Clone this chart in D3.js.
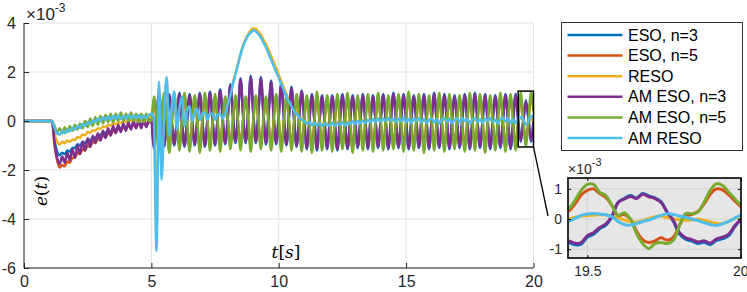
<!DOCTYPE html>
<html>
<head>
<meta charset="utf-8">
<script src="https://cdn.jsdelivr.net/npm/d3@7"></script>
<style>
  body { margin: 0; background: #fff; }
  svg { display: block; font-family: "Liberation Sans", Arial, sans-serif; }
</style>
</head>
<body>
<svg id="chart" width="747" height="292"></svg>
<script>
// error signals e(t) (x 1e-3), sampled every tStep seconds from t = 0 to 20
const tStep = 0.1;

const esoN3 = [
  0,0,0,0,0,0,0,0,0,0,0,0,
  -0.8,-1.25,-1.4,-1.3,-1.35,-1.2,-1.25,-1.1,-1.1,-0.95,-1.0,-0.85,-0.9,-0.75,-0.8,-0.65,-0.7,-0.55,-0.6,-0.45,
  -0.5,-0.4,-0.45,-0.3,-0.38,-0.25,-0.32,-0.2,-0.28,-0.15,-0.25,-0.12,-0.22,-0.1,-0.2,-0.05,-0.18,-0.05,
  0,-1.15,0,1.15, 0.05,-1.05,0,1.1, 0,-1,0.05,1.15, 0,-1.05,0,1.1, 0.05,-1,0.05,1.15, 0,-1.05,0.05,1.2,
  0.05,-1,0.1,1.3, 0.1,-0.95,0.15,1.5, 0.2,-0.9,0.25,1.75, 0.25,-0.9,0.3,1.85, 0.3,-0.9,0.3,1.8,
  0.25,-0.95,0.25,1.65, 0.2,-0.95,0.2,1.55, 0.15,-1,0.15,1.4, 0.1,-1.05,0.1,1.25, 0.05,-1.15,0,1.1,
  0,-1.2,0,1.05, 0,-1.15,-0.05,1.05, 0,-1.2,0,1.1, -0.05,-1.15,0,1.05, 0,-1.1,0,1.1, 0,-1.15,0.05,1.05,
  0,-1.1,0,1.1, 0,-1.15,0,1.15, 0.05,-1.1,0,1.1, 0,-1.15,0,1.05, 0,-1.1,0.05,1.1, 0,-1.15,0,1.15,
  0,-1.1,0,1.1, 0.05,-1.15,0,1.05, 0,-1.1,0,1.1, 0,-1.15,0.05,1.15, 0,-1.1,0,1.1, 0,-1.15,0,1.05,
  0.05,-1.1,0,1.1, 0,-1.15,0,1.1, 0,-0.85,0,0.85, 0.1,-0.85,0
];

const esoN5 = [
  0,0,0,0,0,0,0,0,0,0,0,0,
  -1.0,-1.6,-1.9,-1.8,-1.85,-1.65,-1.7,-1.5,-1.5,-1.3,-1.35,-1.15,-1.2,-1.0,-1.05,-0.85,-0.9,-0.72,-0.78,-0.6,
  -0.65,-0.5,-0.55,-0.4,-0.45,-0.32,-0.38,-0.25,-0.32,-0.2,-0.28,-0.15,-0.24,-0.12,-0.2,-0.08,-0.16,-0.05,
  0,0.85,0.05,-1.05, 0,0.95,0,-1.1, -0.05,0.9,0.05,-1, 0,0.95,-0.05,-1.05, 0.05,0.9,0,-1.1, 0,0.95,0.05,-1,
  -0.05,0.9,0,-1.05, 0.05,0.85,0.05,-1, 0,0.9,0,-1, 0.05,0.85,0.05,-1.05, 0,0.9,0,-1, 0.05,0.85,-0.05,-1,
  0,0.95,0.05,-1.05, 0,0.9,0,-1, -0.05,0.95,0,-1.05, 0.05,0.9,-0.05,-1.1, 0,1,0,-1, 0,0.9,0.05,-1.05,
  -0.05,0.95,0,-1, 0,0.95,0,-1.1, 0.05,0.9,-0.05,-1, 0,0.95,0,-1.05, 0,0.95,0.05,-1, -0.05,0.9,0,-1,
  0,0.95,0,-1.05, 0.05,1,-0.05,-1, 0,0.95,0,-1.1, 0,0.9,0.05,-1, -0.05,0.95,0,-1.05, 0,0.95,0,-1,
  0.05,0.9,-0.05,-1.05, 0,0.95,0,-1, 0,0.95,0.05,-1.1, -0.05,0.9,0,-1, 0,0.95,0,-1.05, 0.05,0.95,-0.05,-1,
  0,1,0,-0.8, 0,1,0.4
];

const reso = [
  0,0,0,0,0,0,0,0,0,0,0,0,
  -0.5,-0.85,-0.95,-0.85,-0.9,-0.8,-0.85,-0.75,-0.78,-0.65,-0.68,-0.55,-0.58,-0.45,-0.48,-0.38,-0.4,-0.3,-0.32,-0.22,
  -0.25,-0.16,-0.18,-0.1,-0.12,-0.05,-0.08,0,-0.04,0.04,0,0.06,0.02,0.08,0.04,0.1,0.06,0.12,
  0.3,0.1,-4.6,1.4,-2.0,0.2,1.6,-0.5,0.5,1.1,
  -0.3,0.45,0.9,-0.15,0.4,0.55,0,0.35,0.45,0.05,
  0.3,0.35,0.1,0.3,0.3,0.1,0.25,0.3,0.15,0.35,
  0.7,1.1,1.55,1.95,2.35,2.75,3.1,3.35,3.55,3.7,
  3.78,3.75,3.65,3.5,3.32,3.12,2.9,2.65,2.4,2.15,
  1.88,1.62,1.36,1.1,0.88,0.68,0.5,0.35,0.22,0.1,
  0.02,
  -0.05,-0.08,-0.1,-0.08,-0.12,-0.1,-0.12,-0.08,-0.1,
  -0.1,-0.08,-0.1,-0.06,-0.08,-0.05,-0.08,-0.04,-0.06,-0.02,
  -0.05,0,-0.03,0.02,-0.02,0.03,0,0.04,0,0.05,
  0,0.05,0.02,0.06,0,0.04,-0.02,0.05,0,0.06,
  0,0.04,-0.03,0.05,0,0.06,-0.02,0.04,-0.04,0.03,
  0.05,-0.02,0.04,-0.05,0.03,0.06,0,0.05,-0.04,0.03,
  0.05,-0.02,0.06,0,0.04,-0.05,0.03,0.06,-0.02,0.04,
  -0.04,0.05,0,0.06,-0.02,0.03,-0.05,0.04,0.06,0,
  0.05,-0.04,0.03,-0.05,0.08,0.12,0,-0.1,-0.08,0.05,
  0.1
];

const amEsoN3 = [
  0,0,0,0,0,0,0,0,0,0,0,0,
  -0.9,-1.5,-1.75,-1.45,-1.7,-1.3,-1.6,-1.15,-1.5,-1.0,-1.35,-0.85,-1.2,-0.7,-1.05,-0.6,-0.9,-0.5,-0.8,-0.4,
  -0.7,-0.3,-0.6,-0.2,-0.5,-0.15,-0.45,-0.1,-0.4,-0.05,-0.35,0,-0.3,0.05,-0.3,0.05,-0.25,0.05,
  0,-1.1,0,1.1, 0.05,-1,0,1.05, 0,-0.95,0.05,1.1, 0,-1,0,1.05, 0.05,-0.95,0.05,1.1, 0,-1,0.05,1.15,
  0.05,-0.95,0.1,1.25, 0.1,-0.9,0.15,1.45, 0.2,-0.85,0.25,1.7, 0.25,-0.85,0.3,1.8, 0.3,-0.85,0.3,1.75,
  0.25,-0.9,0.25,1.6, 0.2,-0.9,0.2,1.5, 0.15,-0.95,0.15,1.35, 0.1,-1,0.1,1.2, 0.05,-1.1,0,1.05,
  0,-1.15,0,1, 0,-1.1,-0.05,1, 0,-1.15,0,1.05, -0.05,-1.1,0,1, 0,-1.05,0,1.05, 0,-1.1,0.05,1,
  0,-1.05,0,1.05, 0,-1.1,0,1.1, 0.05,-1.05,0,1.05, 0,-1.1,0,1, 0,-1.05,0.05,1.05, 0,-1.1,0,1.1,
  0,-1.05,0,1.05, 0.05,-1.1,0,1, 0,-1.05,0,1.05, 0,-1.1,0.05,1.1, 0,-1.05,0,1.05, 0,-1.1,0,1,
  0.05,-1.05,0,1.05, 0,-1.1,0,1.05, 0,-0.8,0,0.8, 0.1,-0.8,0
];

const amEsoN5 = [
  0,0,0,0,0,0,0,0,0,0,0,0,
  -0.2,-0.45,-0.3,-0.5,-0.25,-0.45,-0.2,-0.4,-0.15,-0.35,-0.1,-0.3,0,-0.25,0.1,-0.2,0.15,-0.15,0.2,-0.1,
  0.25,-0.05,0.3,-0.05,0.3,0,0.35,0,0.3,0,0.35,0,0.3,-0.05,0.3,-0.05,0.3,0,
  0,1,0.1,-1.25, 0,1.15,0,-1.3, -0.05,1.1,0.05,-1.2, 0,1.15,-0.05,-1.25, 0.05,1.05,0,-1.3, 0,1.15,0.05,-1.2,
  -0.05,1.1,0,-1.25, 0.05,1,0.05,-1.15, 0,1.05,0,-1.2, 0.05,1,0.05,-1.25, 0,1.05,0,-1.15, 0.05,1,-0.05,-1.2,
  0,1.1,0.05,-1.25, 0,1.05,0,-1.2, -0.05,1.1,0,-1.25, 0.05,1.05,-0.05,-1.3, 0,1.2,0,-1.2, 0,1.05,0.05,-1.25,
  -0.05,1.1,0,-1.15, 0,1.15,0,-1.3, 0.05,1.05,-0.05,-1.2, 0,1.1,0,-1.25, 0,1.15,0.05,-1.2, -0.05,1.05,0,-1.15,
  0,1.1,0,-1.25, 0.05,1.2,-0.05,-1.2, 0,1.1,0,-1.3, 0,1.05,0.05,-1.2, -0.05,1.15,0,-1.25, 0,1.1,0,-1.15,
  0.05,1.05,-0.05,-1.25, 0,1.15,0,-1.2, 0,1.1,0.05,-1.3, -0.05,1.05,0,-1.2, 0,1.15,0,-1.25, 0.05,1.1,-0.05,-1.2,
  0,1.15,0,-1.0, 0,1.15,0.45
];

const amReso = [
  0,0,0,0,0,0,0,0,0,0,0,0,
  -0.3,-0.5,-0.55,-0.4,-0.5,-0.35,-0.42,-0.28,-0.35,-0.2,-0.28,-0.12,-0.2,-0.05,-0.12,0.02,-0.05,0.1,0,0.15,
  0.05,0.18,0.06,0.2,0.08,0.22,0.08,0.2,0.1,0.25,0.1,0.22,0.12,0.25,0.1,0.22,0.12,0.25,
  0.3,0.1,-5.3,1.6,-2.4,0.2,1.8,-0.6,0.6,1.2,
  -0.35,0.5,1.0,-0.2,0.4,0.6,0,0.35,0.5,0.05,
  0.3,0.35,0.05,0.3,0.3,0.05,0.25,0.3,0.1,0.3,
  0.65,1.05,1.5,1.9,2.3,2.7,3.05,3.3,3.5,3.6,
  3.7,3.65,3.55,3.4,3.2,3.0,2.75,2.5,2.25,2.0,
  1.75,1.5,1.25,1.0,0.8,0.6,0.42,0.28,0.15,0.05,
  0,
  -0.1,-0.05,-0.15,-0.08,-0.18,-0.1,-0.2,-0.1,-0.15,
  -0.18,-0.08,-0.2,-0.1,-0.15,-0.05,-0.18,-0.08,-0.12,-0.02,
  -0.12,0,-0.1,0.02,-0.08,0.05,-0.05,0.08,-0.05,0.1,
  -0.02,0.1,0,0.12,-0.02,0.08,-0.05,0.1,0,0.12,
  -0.05,0.08,-0.08,0.1,0,0.12,-0.05,0.08,-0.08,0.05,
  0.1,-0.05,0.08,-0.1,0.05,0.12,-0.02,0.1,-0.08,0.05,
  0.1,-0.05,0.12,0,0.08,-0.1,0.05,0.12,-0.05,0.08,
  -0.08,0.1,0,0.12,-0.05,0.05,-0.1,0.08,0.12,-0.02,
  0.1,-0.08,0.05,-0.1,0.1,0.15,0.05,-0.15,-0.05,0.2,
  0.15
];

// zoomed window 19.44 .. 20 s, sampled every insetStep seconds
const insetT0 = 19.44;
const insetStep = 0.02;
const insetEsoN3   = [-0.77,-0.85,-0.83,-0.6,-0.5,-0.32,-0.2,0.08,0.55,0.68,0.78,0.7,0.85,0.77,0.7,0.57,0.22,-0.08,-0.5,-0.67,-0.73,-0.81,-0.77,-0.85,-0.71,-0.65,-0.55,-0.25,-0.02];
const insetEsoN5   = [0.25,0.5,0.8,0.95,1.0,0.85,0.72,0.45,0.12,0.15,0,-0.4,-0.68,-0.78,-0.72,-0.62,-0.7,-0.6,-0.2,0.1,0.15,0.25,0.5,0.82,1.0,0.97,0.8,0.6,0.4];
const insetReso    = [0,0.06,0.1,0.12,0.13,0.14,0.13,0.1,0.04,-0.03,-0.08,-0.1,-0.05,0.02,0.08,0.1,0.05,0,-0.02,-0.04,-0.03,0,-0.04,-0.1,-0.14,-0.15,-0.08,0.02,0.1];
const insetAmEsoN3 = [-0.72,-0.8,-0.78,-0.55,-0.45,-0.28,-0.16,0.1,0.55,0.66,0.75,0.68,0.82,0.74,0.68,0.55,0.22,-0.05,-0.45,-0.62,-0.68,-0.76,-0.72,-0.8,-0.66,-0.6,-0.5,-0.22,0];
const insetAmEsoN5 = [0.34,0.62,0.95,1.15,1.15,0.89,0.78,0.45,0.12,0.21,0.01,-0.48,-0.81,-0.98,-0.81,-0.78,-0.81,-0.7,-0.21,0.18,0.18,0.23,0.56,0.95,1.17,1.11,0.89,0.67,0.45];
const insetAmReso  = [-0.08,0.02,0.12,0.17,0.18,0.17,0.14,0.08,-0.08,-0.18,-0.2,-0.15,-0.08,-0.03,0.05,0.12,0.18,0.15,0.1,0.06,0,-0.05,-0.12,-0.18,-0.21,-0.16,-0.08,0.03,0.14];

const seriesNames = ['ESO, n=3', 'ESO, n=5', 'RESO', 'AM ESO, n=3', 'AM ESO, n=5', 'AM RESO'];
const seriesColors = ['#0072BD', '#D95319', '#EDB120', '#7E2F8E', '#77AC30', '#4DBEEE'];
const mainSeries = [esoN3, esoN5, reso, amEsoN3, amEsoN5, amReso];
const insetSeries = [insetEsoN3, insetEsoN5, insetReso, insetAmEsoN3, insetAmEsoN5, insetAmReso];

const xTicks = [0, 5, 10, 15, 20];
const yTicks = [-6, -4, -2, 0, 2, 4];
const insetXTicks = [19.5, 20];
const insetYTicks = [-1, 0, 1];
const zoomBox = { t0: 19.4, t1: 20, e0: -1.06, e1: 1.22 };

const axisColor = '#262626';
const gridColor = '#e3e3e3';
const plainNum = d => String(d);   // MATLAB prints a plain hyphen for negatives

const svg = d3.select('#chart');

// ---------- main axes ----------
const x = d3.scaleLinear().domain([0, 20]).range([24, 533.5]);
const y = d3.scaleLinear().domain([-6, 4]).range([268, 23]);

svg.append('defs').append('clipPath').attr('id', 'mainClip')
  .append('rect')
  .attr('x', x(0)).attr('y', y(4))
  .attr('width', x(20) - x(0)).attr('height', y(-6) - y(4));

const grid = svg.append('g');
grid.selectAll('.vg').data(xTicks).enter().append('line')
  .attr('x1', d => x(d)).attr('x2', d => x(d))
  .attr('y1', y(-6)).attr('y2', y(4))
  .attr('stroke', gridColor).attr('stroke-width', 1);
grid.selectAll('.hg').data(yTicks).enter().append('line')
  .attr('x1', x(0)).attr('x2', x(20))
  .attr('y1', d => y(d)).attr('y2', d => y(d))
  .attr('stroke', gridColor).attr('stroke-width', 1);

const line = d3.line()
  .x((d, i) => x(i * tStep))
  .y(d => y(d))
  .curve(d3.curveMonotoneX);

const plot = svg.append('g').attr('clip-path', 'url(#mainClip)');
mainSeries.forEach((s, k) => {
  plot.append('path')
    .datum(s)
    .attr('d', line)
    .attr('fill', 'none')
    .attr('stroke', seriesColors[k])
    .attr('stroke-width', 2.5)
    .attr('stroke-linejoin', 'round');
});

// axes (ticks point inward, MATLAB style)
const xAxis = svg.append('g')
  .attr('transform', `translate(0,${y(-6)})`)
  .call(d3.axisBottom(x).tickValues(xTicks).tickSize(-5).tickPadding(8).tickFormat(plainNum));
const yAxis = svg.append('g')
  .attr('transform', `translate(${x(0)},0)`)
  .call(d3.axisLeft(y).tickValues(yTicks).tickSize(-5).tickPadding(8).tickFormat(plainNum));

[xAxis, yAxis].forEach(a => {
  a.select('.domain').attr('stroke', axisColor).attr('stroke-width', 1);
  a.selectAll('.tick line').attr('stroke', axisColor);
  a.selectAll('.tick text')
    .attr('fill', axisColor)
    .style('font-size', '16px')
    .style('font-family', '"Liberation Sans", Arial, sans-serif');
});
xAxis.select('.domain').attr('d', `M${x(0)},0H${x(20)}`);
yAxis.select('.domain').attr('d', `M0,${y(-6)}V${y(4)}`);

// exponent
const expo = svg.append('text')
  .attr('x', 26).attr('y', 20)
  .attr('fill', axisColor)
  .style('font-size', '17px');
expo.append('tspan').text('×10');
expo.append('tspan').attr('dy', -8).style('font-size', '12px').text('-3');

// axis labels (LaTeX look)
const yl = svg.append('text')
  .attr('transform', `translate(47,191) rotate(-90)`)
  .attr('text-anchor', 'middle')
  .attr('fill', '#000')
  .style('font-family', '"DejaVu Serif", "Liberation Serif", serif')
  .style('font-size', '17px');
yl.append('tspan').style('font-style', 'italic').text('e');
yl.append('tspan').text('(');
yl.append('tspan').style('font-style', 'italic').text('t');
yl.append('tspan').text(')');

const xl = svg.append('text')
  .attr('x', 286).attr('y', 258)
  .attr('text-anchor', 'middle')
  .attr('fill', '#000')
  .style('font-family', '"DejaVu Serif", "Liberation Serif", serif')
  .style('font-size', '17px');
xl.append('tspan').style('font-style', 'italic').text('t');
xl.append('tspan').text('[');
xl.append('tspan').style('font-style', 'italic').text('s');
xl.append('tspan').text(']');

// zoom window marker and connector
svg.append('rect')
  .attr('x', x(zoomBox.t0)).attr('y', y(zoomBox.e1))
  .attr('width', x(zoomBox.t1) - x(zoomBox.t0))
  .attr('height', y(zoomBox.e0) - y(zoomBox.e1))
  .attr('fill', 'none').attr('stroke', '#000').attr('stroke-width', 1.5);
svg.append('line')
  .attr('x1', x(zoomBox.t1)).attr('y1', y(zoomBox.e0))
  .attr('x2', 548).attr('y2', 216)
  .attr('stroke', '#000').attr('stroke-width', 1.3);

// ---------- legend ----------
const legend = svg.append('g').attr('transform', 'translate(561.5,22.5)');
legend.append('rect')
  .attr('width', 181).attr('height', 128)
  .attr('fill', '#fff').attr('stroke', '#303030').attr('stroke-width', 1);
seriesNames.forEach((name, k) => {
  const ly = 12.5 + k * 20.6;
  legend.append('line')
    .attr('x1', 6).attr('x2', 61).attr('y1', ly).attr('y2', ly)
    .attr('stroke', seriesColors[k]).attr('stroke-width', 2.5);
  legend.append('text')
    .attr('x', 66.5).attr('y', ly + 5.5)
    .attr('fill', '#000')
    .style('font-size', '16px')
    .text(name);
});

// ---------- inset ----------
const xi = d3.scaleLinear().domain([19.437, 20]).range([568, 741]);
const yi = d3.scaleLinear().domain([-1.29, 1.36]).range([258, 178]);

svg.select('defs').append('clipPath').attr('id', 'insetClip')
  .append('rect')
  .attr('x', xi(19.437)).attr('y', yi(1.36))
  .attr('width', xi(20) - xi(19.437)).attr('height', yi(-1.29) - yi(1.36));

const inset = svg.append('g');
inset.append('rect')
  .attr('x', xi(19.437)).attr('y', yi(1.36))
  .attr('width', xi(20) - xi(19.437)).attr('height', yi(-1.29) - yi(1.36))
  .attr('fill', '#e6e6e6');
inset.selectAll('.ivg').data(insetXTicks).enter().append('line')
  .attr('x1', d => xi(d)).attr('x2', d => xi(d))
  .attr('y1', yi(-1.29)).attr('y2', yi(1.36))
  .attr('stroke', '#d2d2d2');
inset.selectAll('.ihg').data(insetYTicks).enter().append('line')
  .attr('x1', xi(19.437)).attr('x2', xi(20))
  .attr('y1', d => yi(d)).attr('y2', d => yi(d))
  .attr('stroke', '#d2d2d2');

const iline = d3.line()
  .x((d, i) => xi(insetT0 + i * insetStep))
  .y(d => yi(d))
  .curve(d3.curveCatmullRom);

const iplot = inset.append('g').attr('clip-path', 'url(#insetClip)');
insetSeries.forEach((s, k) => {
  iplot.append('path')
    .datum(s)
    .attr('d', iline)
    .attr('fill', 'none')
    .attr('stroke', seriesColors[k])
    .attr('stroke-width', 3)
    .attr('stroke-linejoin', 'round');
});

// inset ticks on all four sides, labels left and bottom
const ixAxis = inset.append('g')
  .attr('transform', `translate(0,${yi(-1.29)})`)
  .call(d3.axisBottom(xi).tickValues(insetXTicks).tickSize(-3).tickPadding(8).tickFormat(d => d === 20 ? '20' : d3.format('.1f')(d)));
const iyAxis = inset.append('g')
  .attr('transform', `translate(${xi(19.437)},0)`)
  .call(d3.axisLeft(yi).tickValues(insetYTicks).tickSize(-3).tickPadding(6).tickFormat(plainNum));
const ixTop = inset.append('g')
  .attr('transform', `translate(0,${yi(1.36)})`)
  .call(d3.axisTop(xi).tickValues(insetXTicks).tickSize(-3).tickFormat(''));
const iyRight = inset.append('g')
  .attr('transform', `translate(${xi(20)},0)`)
  .call(d3.axisRight(yi).tickValues(insetYTicks).tickSize(-3).tickFormat(''));

[ixAxis, iyAxis, ixTop, iyRight].forEach(a => {
  a.select('.domain').remove();
  a.selectAll('.tick line').attr('stroke', '#000');
  a.selectAll('.tick text')
    .attr('fill', axisColor)
    .style('font-size', '14px')
    .style('font-family', '"Liberation Sans", Arial, sans-serif');
});
// keep the last label inside the picture
ixAxis.selectAll('.tick text').filter(d => d === 20).attr('text-anchor', 'end').attr('dx', 7);

inset.append('rect')
  .attr('x', xi(19.437)).attr('y', yi(1.36))
  .attr('width', xi(20) - xi(19.437)).attr('height', yi(-1.29) - yi(1.36))
  .attr('fill', 'none').attr('stroke', '#000').attr('stroke-width', 1.6);

const iexpo = svg.append('text')
  .attr('x', 568).attr('y', 174)
  .attr('fill', axisColor)
  .style('font-size', '14px');
iexpo.append('tspan').text('×10');
iexpo.append('tspan').attr('dy', -8).style('font-size', '11px').text('-3');
</script>
</body>
</html>
